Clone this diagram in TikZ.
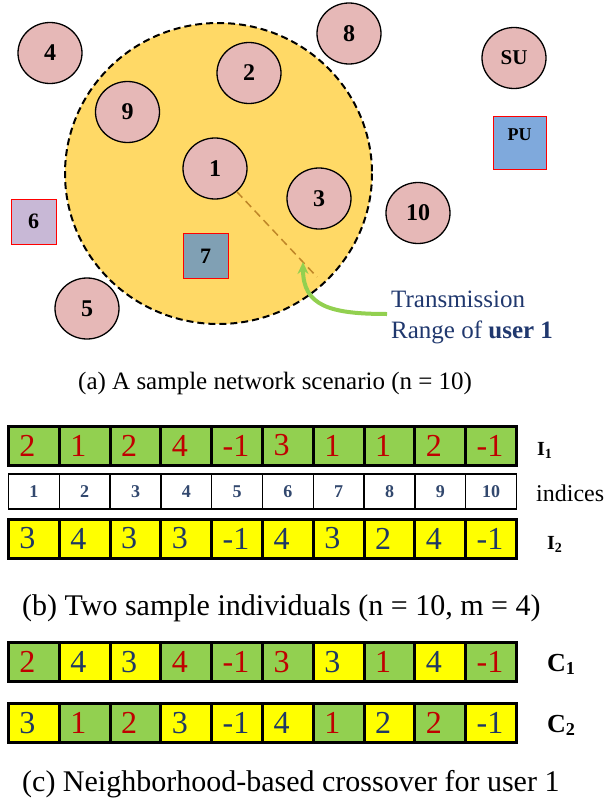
\documentclass[tikz,border=0pt]{standalone}
\usepackage{fontspec}
\setmainfont{Liberation Serif}
\usetikzlibrary{shapes.geometric,arrows.meta}
\definecolor{rangefill}{RGB}{255,217,102}
\definecolor{userfill}{RGB}{230,184,183}
\definecolor{cellgreen}{RGB}{146,208,80}
\definecolor{cellyellow}{RGB}{255,255,0}
\definecolor{valred}{RGB}{192,0,0}
\definecolor{valblue}{RGB}{31,56,100}
\definecolor{idxblue}{RGB}{50,72,110}
\definecolor{pufill}{RGB}{127,169,220}
\definecolor{sixfill}{RGB}{200,184,214}
\definecolor{sevenfill}{RGB}{128,160,180}
\definecolor{rangeline}{RGB}{191,134,40}
\definecolor{notetext}{RGB}{32,56,110}
\tikzset{
  user/.style={ellipse,draw=black,line width=1.3pt,fill=userfill,minimum width=64pt,minimum height=61pt,inner sep=0pt,font=\fontsize{24}{24}\selectfont\bfseries},
  primary/.style={rectangle,draw=red,line width=1pt,minimum size=45pt,inner sep=0pt,font=\fontsize{22}{22}\selectfont\bfseries},
  cell/.style={rectangle,draw=black,line width=3pt,minimum width=50.8pt,minimum height=39pt,text width=28.8pt,align=left,inner xsep=11pt,inner ysep=0pt,font=\fontsize{32}{32}\selectfont},
  cellG/.style={cell,fill=cellgreen,text=valred},
  cellY/.style={cell,fill=cellyellow,text=valblue},
  idxcell/.style={rectangle,draw=black,line width=1.5pt,minimum width=50.8pt,minimum height=35pt,inner sep=0pt,text=idxblue,font=\fontsize{18}{18}\selectfont\bfseries},
  rowlabel/.style={anchor=base west,inner sep=0pt,font=\fontsize{20}{20}\selectfont\bfseries},
  caption/.style={anchor=base west,inner sep=0pt,font=\fontsize{30}{30}\selectfont}
}
\begin{document}
\begin{tikzpicture}[x=1pt,y=-1pt]
\useasboundingbox (0,0) rectangle (609,803);
% (a) network scenario
\fill[rangefill] (218.5,173.5) ellipse [x radius=153.5,y radius=150.5];
\draw[line width=2pt,dash pattern=on 7pt off 4pt] (218.5,173.5) ellipse [x radius=153.5,y radius=150.5];
\node (n4) at (50,53) [user] {4};
\node (n2) at (249,73) [user] {2};
\node (n9) at (127.5,112) [user] {9};
\node (n1) at (215,168.5) [user] {1};
\node (n8) at (349,33.5) [user] {8};
\node (su) at (514,58) [user,font=\fontsize{21}{21}\selectfont\bfseries] {SU};
\node (pu) at (519.5,143) [primary,fill=pufill,minimum size=53pt,text height=12pt,text depth=18pt,font=\fontsize{18}{18}\selectfont\bfseries] {PU};
\node (n3) at (319,198.5) [user] {3};
\node (n10) at (418,213) [user] {10};
\node (n6) at (33.5,221.5) [primary,fill=sixfill] {6};
\node (n7) at (205.5,256) [primary,fill=sevenfill] {7};
\node (n5) at (87,308.5) [user] {5};
\coordinate (reach) at (317,277);
\coordinate (tip) at (303,262);
\draw[rangeline,line width=1.5pt,dash pattern=on 8pt off 5pt] (n1) -- (reach);
\node (note) at (391,291) [anchor=north west,inner sep=0pt,align=left,text=notetext,font=\fontsize{25}{31}\selectfont] {Transmission\\Range of \textbf{user 1}};
\coordinate (start) at (387,314);
\draw[cellgreen,line width=4pt,-{Stealth[length=12pt,width=11pt]}] (start) .. controls (330,314) and (303,306) .. (tip);
\node (cap-a) at (78,389) [caption,font=\fontsize{25}{25}\selectfont] {(a) A sample network scenario (n = 10)};
% (b) two individuals
\foreach \v [count=\i] in {2,1,2,4,-1,3,1,1,2,-1}
  \node (i1-\i) at ({8.5+(\i-0.5)*50.8},445.5) [cellG] {\v};
\foreach \i in {1,...,10}
  \node (idx-\i) at ({8.5+(\i-0.5)*50.8},491.5) [idxcell] {\i};
\foreach \v [count=\i] in {3,4,3,3,-1,4,3,2,4,-1}
  \node (i2-\i) at ({8.5+(\i-0.5)*50.8},538.5) [cellY] {\v};
\node (lbl-i1) at (537,455) [rowlabel] {I\textsubscript{1}};
\node (lbl-idx) at (536,501) [rowlabel,font=\fontsize{24}{24}\selectfont] {indices};
\node (lbl-i2) at (547,549) [rowlabel] {I\textsubscript{2}};
\node (cap-b) at (22,615) [caption] {(b) Two sample individuals (n = 10, m = 4)};
% (c) crossover
\foreach \v/\c [count=\i] in {2/cellG,4/cellY,3/cellY,4/cellG,-1/cellG,3/cellG,3/cellY,1/cellG,4/cellY,-1/cellG}
  \node (c1-\i) at ({8.5+(\i-0.5)*50.8},662) [\c] {\v};
\foreach \v/\c [count=\i] in {3/cellY,1/cellG,2/cellG,3/cellY,-1/cellY,4/cellY,1/cellG,2/cellY,2/cellG,-1/cellY}
  \node (c2-\i) at ({8.5+(\i-0.5)*50.8},723) [\c] {\v};
\node (lbl-c1) at (547,671) [rowlabel,font=\fontsize{26}{26}\selectfont\bfseries] {C\textsubscript{1}};
\node (lbl-c2) at (547,732) [rowlabel,font=\fontsize{26}{26}\selectfont\bfseries] {C\textsubscript{2}};
\node (cap-c) at (22,791) [caption] {(c) Neighborhood-based crossover for user 1};
\end{tikzpicture}
\end{document}
